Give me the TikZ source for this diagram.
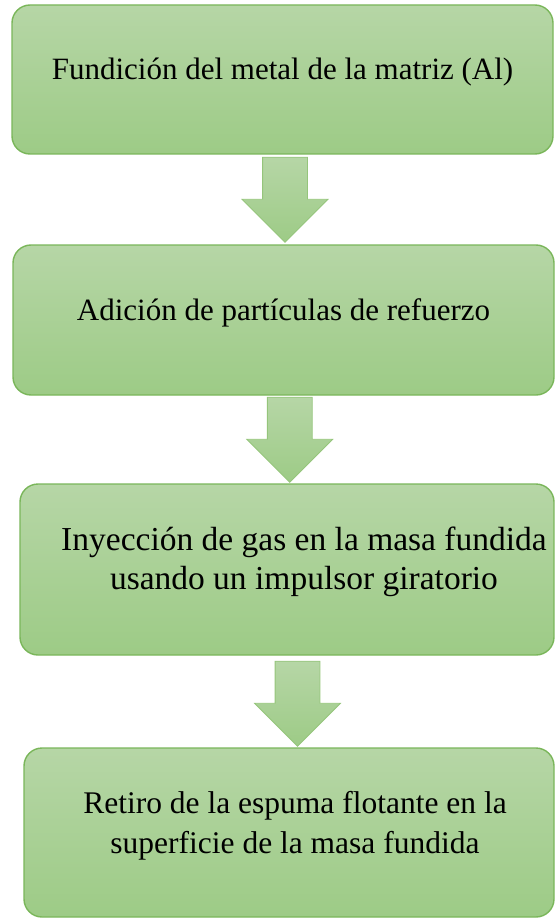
\documentclass[tikz,border=0pt]{standalone}
\usepackage{fontspec}
\setmainfont{Liberation Serif}
\usepackage{xcolor}
\usepackage{tikz}
\usetikzlibrary{positioning,calc,shapes.arrows}

\definecolor{boxtop}{RGB}{182,214,166}
\definecolor{boxbot}{RGB}{157,203,134}
\definecolor{boxline}{RGB}{122,182,90}

\begin{document}
\begin{tikzpicture}[x=1pt, y=-1pt,
  stepbox/.style={draw=boxline, line width=1.4pt, rounded corners=18pt,
    top color=boxtop, bottom color=boxbot, inner sep=0pt},
  steptext/.style={font=\fontsize{31}{39}\selectfont, align=center, inner sep=0pt},
  downarrow/.style={single arrow, shape border rotate=270, draw=boxline!80, line width=0.8pt,
    top color=boxtop, bottom color=boxbot, minimum height=85pt, minimum width=85pt,
    single arrow head extend=20.5pt, inner xsep=22pt, inner ysep=0pt}]
  \useasboundingbox (0,0) rectangle (555,920);
  % process steps
  \node[stepbox, minimum width=541pt, minimum height=149pt] (b1) at (282.5,79.5) {};
  \node[stepbox, minimum width=541pt, minimum height=150pt] (b2) at (283.5,320) {};
  \node[stepbox, minimum width=534pt, minimum height=171pt] (b3) at (287,569.5) {};
  \node[stepbox, minimum width=530pt, minimum height=169pt] (b4) at (289,832.5) {};
  \node[steptext, anchor=base] (t1) at (b1.center) {Fundición del metal de la matriz (Al)};
  \node[steptext, anchor=base] (t2) at (b2.center) {Adición de partículas de refuerzo};
  \node[steptext, font=\fontsize{33.5}{39}\selectfont] (t3) at ([xshift=17pt,yshift=8pt]b3.center)
    {Inyección de gas en la masa fundida\\usando un impulsor giratorio};
  \node[steptext, font=\fontsize{31.5}{40}\selectfont] (t4) at ([xshift=6pt,yshift=7pt]b4.center)
    {Retiro de la espuma flotante en la\\superficie de la masa fundida};
  % block arrows between steps
  \node[downarrow] (a1) at ($(b1.south)!0.5!(b2.north)+(2,-11)$) {};
  \node[downarrow] (a2) at ($(b2.south)!0.5!(b3.north)+(4.5,-11)$) {};
  \node[downarrow] (a3) at ($(b3.south)!0.5!(b4.north)+(9.5,-9)$) {};
\end{tikzpicture}
\end{document}
